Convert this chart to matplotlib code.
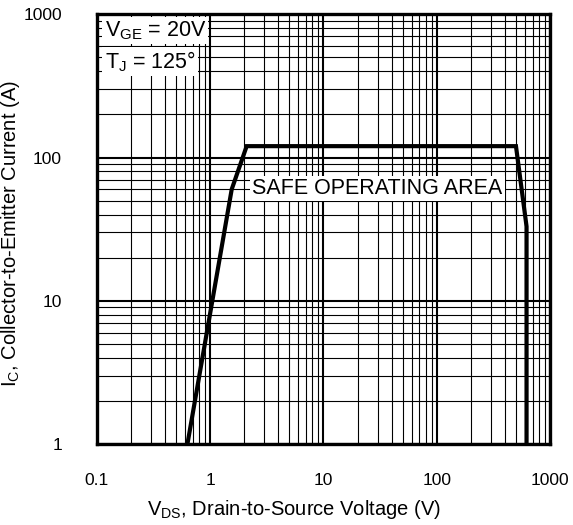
import matplotlib.pyplot as plt
from matplotlib.ticker import LogLocator, FixedLocator, NullFormatter

plt.rcParams['font.family'] = ['Liberation Sans', 'DejaVu Sans']
plt.rcParams['mathtext.fontset'] = 'custom'
plt.rcParams['mathtext.rm'] = 'Liberation Sans'
plt.rcParams['mathtext.it'] = 'Liberation Sans'

# SOA boundary (V, A)
vds = [0.63, 1.55, 2.1, 500, 620, 620]
ic = [1, 60, 120, 120, 33, 1]

x_ticks = [0.1, 1, 10, 100, 1000]
x_labels = ['0.1', '1', '10', '100', '1000']
y_ticks = [1, 10, 100, 1000]
y_labels = ['1', '10', '100', '1000']

fig = plt.figure(figsize=(5.73, 5.25), dpi=100)
ax = fig.add_axes([0.169, 0.154, 0.791, 0.819])

ax.set_xscale('log')
ax.set_yscale('log')
ax.set_xlim(0.1, 1000)
ax.set_ylim(1, 1000)

ax.xaxis.set_major_locator(FixedLocator(x_ticks))
ax.yaxis.set_major_locator(FixedLocator(y_ticks))
ax.set_xticklabels(x_labels)
ax.set_yticklabels(y_labels)
ax.xaxis.set_minor_locator(LogLocator(base=10, subs=range(2, 10)))
ax.yaxis.set_minor_locator(LogLocator(base=10, subs=range(2, 10)))
ax.xaxis.set_minor_formatter(NullFormatter())
ax.yaxis.set_minor_formatter(NullFormatter())

ax.grid(which='major', color='black', lw=1.5)
ax.grid(which='minor', color='black', lw=0.8)
ax.tick_params(which='both', length=0, labelsize=12.5)
ax.tick_params(axis='x', pad=21)
ax.tick_params(axis='y', pad=25)
for s in ax.spines.values():
    s.set_linewidth(2.4)

ax.plot(vds, ic, color='black', lw=3, solid_joinstyle='miter', zorder=3)

box = dict(facecolor='white', edgecolor='none', pad=1.5)
ax.text(0.017, 0.988, r'V$_{\mathregular{GE}}$ = 20V', transform=ax.transAxes,
        fontsize=15.5, va='top', ha='left', bbox=box, zorder=4)
ax.text(0.017, 0.918, r'T$_{\mathregular{J}}$ = 125°', transform=ax.transAxes,
        fontsize=15.5, va='top', ha='left', bbox=box, zorder=4)
ax.text(30, 61, 'SAFE OPERATING AREA', fontsize=15.5, ha='center', va='center',
        bbox=box, zorder=4)

ax.set_xlabel(r'V$_{\mathregular{DS}}$, Drain-to-Source Voltage (V)', fontsize=14.5)
ax.set_ylabel(r'I$_{\mathregular{C}}$, Collector-to-Emitter Current (A)', fontsize=14.5)
ax.xaxis.set_label_coords(0.435, -0.125)
ax.yaxis.set_label_coords(-0.165, 0.49)

fig.savefig('out.png', dpi=100)
